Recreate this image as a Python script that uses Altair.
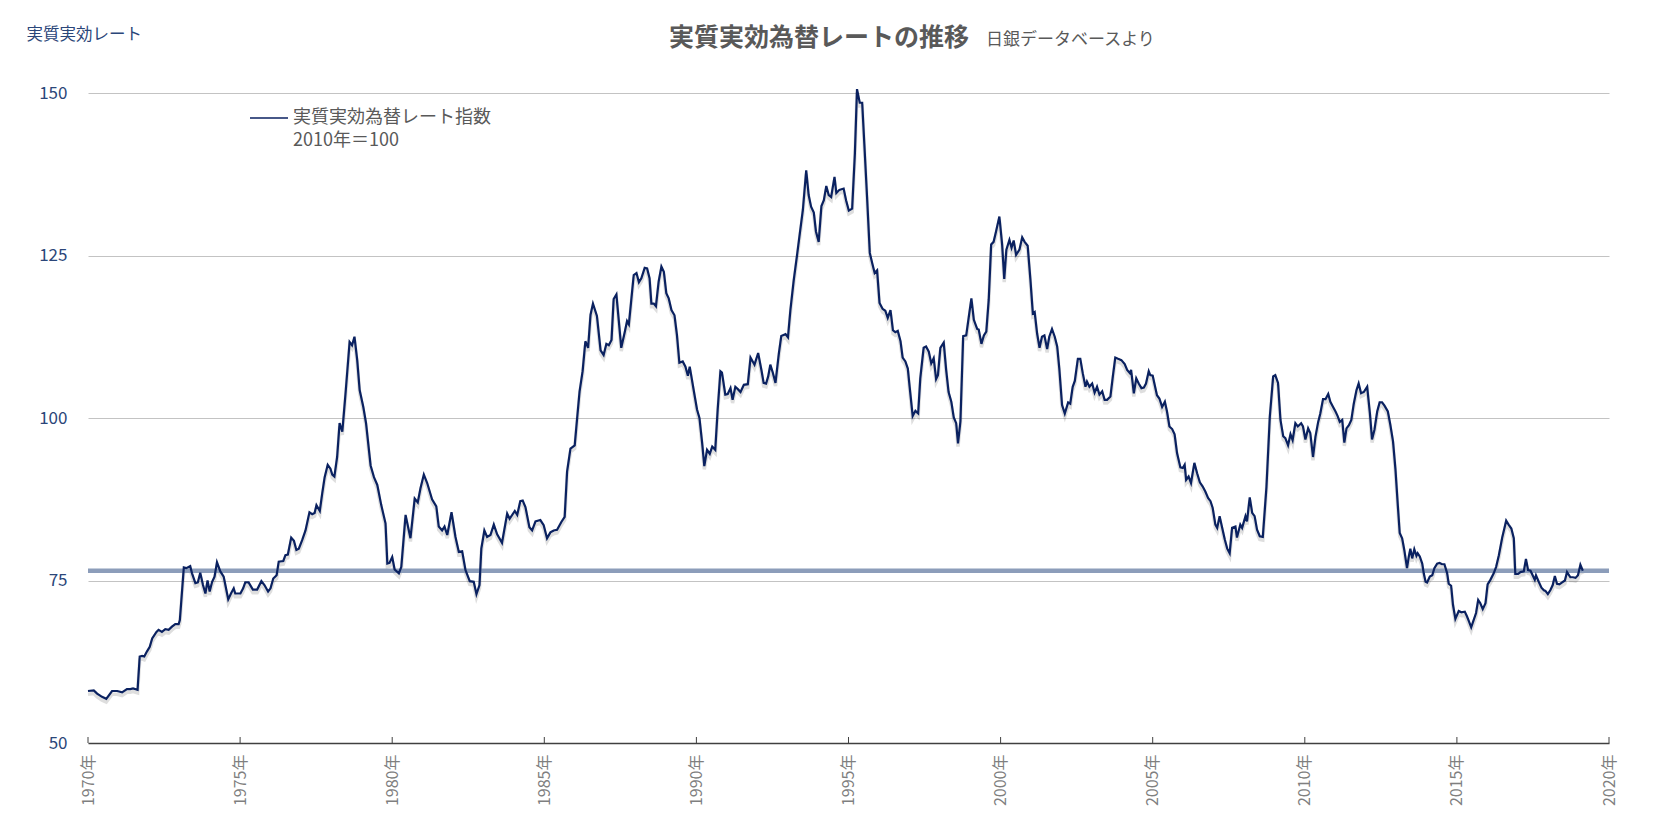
import altair as alt
import pandas as pd

# ---- data (decimal year, index value) ----
RATE_1970S = [
    (1970.00, 58.0), (1970.19, 58.1), (1970.30, 57.6), (1970.46, 57.1), (1970.60, 56.8), (1970.79, 58.0), (1970.96, 58.0),
    (1971.12, 57.8), (1971.28, 58.3), (1971.39, 58.3), (1971.48, 58.4), (1971.63, 58.2), (1971.70, 63.3), (1971.78, 63.4), (1971.85, 63.3), (1971.94, 64.1),
    (1972.03, 64.8), (1972.11, 66.1), (1972.25, 67.1), (1972.32, 67.4), (1972.43, 67.1), (1972.54, 67.5), (1972.65, 67.4), (1972.76, 67.9), (1972.87, 68.3), (1972.98, 68.3),
    (1973.02, 68.9), (1973.15, 77.0), (1973.23, 76.9), (1973.36, 77.2), (1973.42, 76.1), (1973.53, 74.6), (1973.61, 74.7), (1973.69, 76.2), (1973.78, 74.3), (1973.86, 73.0), (1973.93, 75.0),
    (1974.00, 73.3), (1974.08, 74.8), (1974.16, 75.6), (1974.24, 77.8), (1974.35, 76.4), (1974.46, 75.6), (1974.55, 73.5), (1974.61, 72.1), (1974.70, 73.0), (1974.79, 73.8), (1974.84, 73.0),
    (1975.01, 73.0), (1975.10, 73.8), (1975.17, 74.7), (1975.28, 74.7), (1975.42, 73.6), (1975.56, 73.6), (1975.70, 74.9), (1975.80, 74.3), (1975.92, 73.3),
    (1976.00, 73.8), (1976.09, 75.3), (1976.20, 75.8), (1976.27, 77.9), (1976.42, 78.0), (1976.49, 78.9), (1976.57, 79.0), (1976.68, 81.6), (1976.77, 81.1), (1976.85, 79.7), (1976.93, 79.9),
    (1977.04, 81.2), (1977.15, 82.7), (1977.28, 85.5), (1977.37, 85.2), (1977.45, 85.4), (1977.51, 86.6), (1977.62, 85.7), (1977.70, 88.4), (1977.78, 90.9), (1977.88, 92.8), (1977.97, 92.2),
    (1978.03, 91.3), (1978.10, 91.0), (1978.19, 94.0), (1978.27, 99.2), (1978.36, 97.9), (1978.47, 104.0), (1978.60, 111.7), (1978.68, 111.2), (1978.76, 112.5), (1978.85, 108.9), (1978.93, 104.3),
    (1979.05, 101.7), (1979.14, 99.2), (1979.29, 92.7), (1979.40, 90.9), (1979.51, 89.7), (1979.64, 86.6), (1979.78, 83.8), (1979.84, 77.6), (1979.91, 77.7),
]
RATE_1980S = [
    (1980.00, 78.6), (1980.08, 76.7), (1980.22, 76.1), (1980.30, 77.1), (1980.44, 85.1), (1980.51, 83.5), (1980.60, 81.5), (1980.74, 87.6), (1980.84, 87.0), (1980.93, 89.2),
    (1981.04, 91.3), (1981.15, 90.0), (1981.31, 87.5), (1981.45, 86.4), (1981.53, 83.3), (1981.64, 82.7), (1981.72, 83.3), (1981.81, 82.0), (1981.95, 85.5),
    (1982.08, 81.7), (1982.19, 79.4), (1982.30, 79.5), (1982.41, 76.6), (1982.55, 74.9), (1982.68, 74.8), (1982.77, 72.9), (1982.87, 74.3), (1982.93, 79.9),
    (1983.03, 82.7), (1983.12, 81.7), (1983.23, 82.0), (1983.34, 83.6), (1983.45, 82.1), (1983.61, 80.8), (1983.78, 85.3), (1983.86, 84.5),
    (1984.03, 85.7), (1984.11, 85.1), (1984.21, 87.2), (1984.29, 87.3), (1984.38, 86.3), (1984.51, 83.2), (1984.60, 82.7), (1984.71, 84.1), (1984.87, 84.3), (1984.98, 83.5),
    (1985.09, 81.5), (1985.20, 82.4), (1985.31, 82.7), (1985.42, 82.8), (1985.56, 84.0), (1985.67, 84.8), (1985.75, 91.8), (1985.86, 95.3),
    (1986.00, 95.8), (1986.08, 100.0), (1986.16, 104.1), (1986.26, 107.2), (1986.35, 111.8), (1986.44, 110.8), (1986.52, 115.9), (1986.60, 117.6), (1986.73, 115.7), (1986.85, 110.4), (1986.95, 109.7),
    (1987.04, 111.4), (1987.12, 111.2), (1987.21, 112.0), (1987.28, 118.3), (1987.37, 119.0), (1987.45, 114.9), (1987.53, 110.8), (1987.64, 113.1), (1987.72, 114.9), (1987.78, 114.4), (1987.85, 117.7), (1987.94, 122.0),
    (1988.03, 122.3), (1988.11, 120.9), (1988.19, 121.5), (1988.30, 123.1), (1988.38, 123.0), (1988.46, 121.5), (1988.52, 117.6), (1988.60, 117.6), (1988.67, 117.2), (1988.76, 121.0), (1988.85, 123.3), (1988.93, 122.5),
    (1989.01, 119.2), (1989.09, 118.4), (1989.18, 116.6), (1989.28, 115.8), (1989.36, 112.8), (1989.44, 108.5), (1989.55, 108.7), (1989.64, 107.9), (1989.72, 106.5), (1989.78, 107.9), (1989.91, 104.3),
]
RATE_1990S = [
    (1990.02, 101.3), (1990.10, 100.0), (1990.19, 96.1), (1990.26, 92.6), (1990.35, 95.1), (1990.44, 94.5), (1990.52, 95.6), (1990.62, 95.1), (1990.70, 101.3), (1990.79, 107.2), (1990.84, 107.0), (1990.95, 103.6),
    (1991.03, 103.7), (1991.12, 104.6), (1991.19, 102.8), (1991.28, 104.8), (1991.37, 104.4), (1991.45, 104.0), (1991.56, 105.1), (1991.69, 105.2), (1991.78, 109.3), (1991.91, 108.2),
    (1992.03, 110.0), (1992.14, 107.3), (1992.21, 105.4), (1992.29, 105.3), (1992.36, 106.4), (1992.43, 108.2), (1992.51, 107.0), (1992.60, 105.4), (1992.71, 109.9), (1992.79, 112.6), (1992.93, 112.9),
    (1993.01, 112.4), (1993.09, 116.6), (1993.20, 121.2), (1993.31, 125.1), (1993.40, 128.4), (1993.50, 132.0), (1993.61, 138.1), (1993.69, 134.3), (1993.77, 132.5), (1993.86, 131.6), (1993.93, 128.7),
    (1994.02, 127.1), (1994.11, 132.6), (1994.19, 133.5), (1994.27, 135.7), (1994.35, 134.3), (1994.43, 134.0), (1994.54, 137.1), (1994.60, 134.6), (1994.70, 135.1), (1994.84, 135.3), (1994.92, 133.5),
    (1995.01, 131.9), (1995.12, 132.2), (1995.21, 140.7), (1995.28, 150.6), (1995.37, 148.5), (1995.45, 148.5), (1995.52, 142.2), (1995.61, 134.0), (1995.70, 125.4), (1995.78, 123.8), (1995.86, 122.3), (1995.94, 122.7),
    (1996.02, 117.7), (1996.12, 116.8), (1996.21, 116.5), (1996.29, 115.4), (1996.38, 116.6), (1996.46, 113.5), (1996.54, 113.2), (1996.62, 113.4), (1996.71, 111.8), (1996.78, 109.3), (1996.87, 108.7), (1996.95, 107.6),
    (1997.01, 104.8), (1997.11, 100.3), (1997.20, 101.1), (1997.29, 100.7), (1997.36, 106.1), (1997.47, 110.8), (1997.55, 111.0), (1997.64, 110.2), (1997.72, 108.4), (1997.80, 109.2), (1997.88, 106.0), (1997.94, 106.6),
    (1998.02, 110.8), (1998.13, 111.6), (1998.21, 107.4), (1998.29, 104.0), (1998.38, 102.5), (1998.46, 100.1), (1998.54, 99.2), (1998.60, 96.1), (1998.68, 99.5), (1998.77, 112.6), (1998.87, 112.7), (1998.95, 115.4),
    (1999.04, 118.4), (1999.12, 115.1), (1999.23, 113.7), (1999.28, 113.6), (1999.37, 111.4), (1999.45, 112.7), (1999.53, 113.3), (1999.61, 118.2), (1999.69, 126.7), (1999.77, 127.1), (1999.85, 128.7), (1999.96, 131.0),
]
RATE_2000S = [
    (2000.05, 126.7), (2000.12, 121.4), (2000.19, 125.9), (2000.29, 127.4), (2000.36, 126.2), (2000.43, 127.3), (2000.51, 125.1), (2000.62, 125.9), (2000.71, 127.8), (2000.79, 127.1), (2000.89, 126.5), (2000.98, 121.3),
    (2001.06, 116.1), (2001.12, 116.3), (2001.20, 113.0), (2001.28, 110.8), (2001.36, 112.5), (2001.44, 112.7), (2001.53, 110.6), (2001.60, 112.5), (2001.69, 113.7), (2001.78, 112.5), (2001.86, 111.0), (2001.93, 107.6),
    (2002.02, 102.0), (2002.11, 100.7), (2002.22, 102.4), (2002.29, 102.2), (2002.37, 104.8), (2002.44, 105.7), (2002.54, 109.1), (2002.62, 109.1), (2002.70, 106.9), (2002.79, 104.8), (2002.84, 105.6), (2002.92, 104.8),
    (2003.01, 105.3), (2003.09, 103.9), (2003.17, 104.8), (2003.25, 103.6), (2003.34, 104.1), (2003.42, 102.8), (2003.50, 102.8), (2003.61, 103.3), (2003.69, 106.4), (2003.77, 109.3), (2003.86, 109.1), (2003.97, 108.9),
    (2004.08, 108.3), (2004.16, 107.4), (2004.25, 106.9), (2004.29, 107.4), (2004.38, 103.8), (2004.46, 106.1), (2004.54, 105.3), (2004.63, 104.6), (2004.71, 104.7), (2004.78, 105.3), (2004.87, 107.2), (2004.92, 106.6),
    (2005.00, 106.5), (2005.07, 105.0), (2005.14, 103.5), (2005.22, 103.0), (2005.31, 101.7), (2005.40, 102.5), (2005.47, 101.0), (2005.55, 98.7), (2005.64, 98.3), (2005.72, 97.5), (2005.80, 94.6), (2005.91, 92.4), (2005.99, 92.3),
    (2006.05, 92.8), (2006.10, 90.5), (2006.18, 91.0), (2006.26, 90.0), (2006.37, 93.1), (2006.46, 91.5), (2006.55, 90.1), (2006.64, 89.5), (2006.73, 88.7), (2006.82, 87.7), (2006.90, 87.2), (2006.97, 86.2),
    (2007.06, 83.6), (2007.12, 83.1), (2007.20, 84.9), (2007.28, 83.2), (2007.37, 81.3), (2007.45, 79.9), (2007.53, 79.2), (2007.61, 83.1), (2007.72, 83.3), (2007.77, 81.6), (2007.88, 83.6), (2007.94, 83.1),
    (2008.05, 84.9), (2008.10, 84.1), (2008.19, 87.8), (2008.27, 85.4), (2008.35, 84.9), (2008.43, 82.8), (2008.52, 81.8), (2008.62, 81.7), (2008.74, 89.4), (2008.85, 100.2), (2008.96, 106.4),
    (2009.03, 106.6), (2009.12, 105.4), (2009.20, 99.7), (2009.29, 97.2), (2009.36, 96.9), (2009.45, 95.8), (2009.53, 97.5), (2009.60, 96.6), (2009.69, 99.2), (2009.77, 98.7), (2009.88, 99.2), (2009.94, 98.7),
]
RATE_2010S = [
    (2010.02, 96.7), (2010.11, 98.4), (2010.18, 97.7), (2010.27, 94.0), (2010.35, 97.1), (2010.44, 99.4), (2010.51, 100.7), (2010.60, 102.9), (2010.68, 102.9), (2010.77, 103.7), (2010.84, 102.5), (2010.93, 101.7),
    (2011.01, 101.0), (2011.08, 100.3), (2011.15, 99.4), (2011.23, 99.7), (2011.30, 96.2), (2011.37, 98.4), (2011.45, 98.9), (2011.53, 99.7), (2011.61, 102.2), (2011.70, 104.3), (2011.77, 105.3), (2011.85, 103.8), (2011.94, 104.0),
    (2012.05, 104.8), (2012.14, 100.7), (2012.21, 96.7), (2012.29, 98.2), (2012.38, 101.0), (2012.46, 102.4), (2012.54, 102.4), (2012.62, 101.9), (2012.73, 101.0), (2012.81, 99.0), (2012.90, 96.4), (2012.98, 92.1),
    (2013.06, 86.4), (2013.12, 82.3), (2013.20, 81.5), (2013.27, 79.7), (2013.36, 76.9), (2013.42, 78.7), (2013.47, 79.9), (2013.53, 78.4), (2013.60, 79.8), (2013.67, 78.8), (2013.71, 79.2), (2013.78, 78.7), (2013.86, 77.6), (2013.91, 76.1), (2013.97, 74.8),
    (2014.02, 74.7), (2014.11, 75.6), (2014.19, 75.8), (2014.26, 76.9), (2014.35, 77.6), (2014.43, 77.7), (2014.51, 77.5), (2014.59, 77.5), (2014.68, 76.1), (2014.73, 74.5), (2014.81, 74.2), (2014.87, 71.3), (2014.95, 69.1),
    (2015.06, 70.3), (2015.15, 70.1), (2015.26, 70.2), (2015.33, 69.5), (2015.39, 68.8), (2015.47, 67.8), (2015.55, 68.9), (2015.63, 70.0), (2015.70, 72.0), (2015.77, 71.5), (2015.85, 70.6), (2015.94, 71.5),
    (2016.01, 74.4), (2016.10, 75.1), (2016.21, 76.1), (2016.29, 77.1), (2016.38, 78.9), (2016.49, 81.6), (2016.56, 83.0), (2016.62, 84.2), (2016.70, 83.6), (2016.79, 83.0), (2016.87, 81.5), (2016.92, 76.0),
    (2017.01, 76.0), (2017.09, 76.3), (2017.20, 76.4), (2017.27, 78.3), (2017.34, 76.6), (2017.42, 76.5), (2017.49, 75.8), (2017.56, 75.1), (2017.60, 75.8), (2017.69, 74.8), (2017.78, 73.9), (2017.86, 73.5), (2017.91, 73.4), (2017.99, 72.9),
    (2018.07, 73.5), (2018.15, 74.3), (2018.22, 75.7), (2018.29, 74.5), (2018.37, 74.4), (2018.46, 74.7), (2018.55, 75.0), (2018.62, 76.3), (2018.73, 75.5), (2018.81, 75.5), (2018.90, 75.4), (2018.98, 75.8),
    (2019.06, 77.4), (2019.14, 76.5),
]
REFERENCE_LEVEL = 76.5          # horizontal band (latest level)
TICK_YEARS = [1970, 1975, 1980, 1985, 1990, 1995, 2000, 2005, 2010, 2015, 2020]
Y_TICKS = [50, 75, 100, 125, 150]

TITLE = "実質実効為替レートの推移"
SUBTITLE = "日銀データベースより"
Y_TITLE = "実質実効レート"
LEGEND_LINES = ["実質実効為替レート指数", "2010年＝100"]

# ---- styling ----
FONT = "Noto Sans CJK JP"
NAVY = "#0A2160"
AXIS_NAVY = "#2B4679"
GRAY_TEXT = "#595959"
W, H = 1521, 650

rows = RATE_1970S + RATE_1980S + RATE_1990S + RATE_2000S + RATE_2010S
df = pd.DataFrame(rows, columns=["year", "rate"])
ticks_df = pd.DataFrame({"year": TICK_YEARS})

x_scale = alt.Scale(domain=[1970, 2020], nice=False, zero=False)
y_scale = alt.Scale(domain=[50, 150], nice=False, zero=False)

x_axis = alt.Axis(
    values=TICK_YEARS, labelExpr="datum.value + '年'", labelAngle=270,
    labelFont=FONT, labelFontSize=16, labelColor="#7F7F7F", labelPadding=11,
    ticks=False, grid=False, domain=True, domainColor="#404040", domainWidth=1.5,
    title=None,
)
y_axis = alt.Axis(
    values=Y_TICKS, grid=True, gridColor="#C3C3C3", gridWidth=1,
    domain=False, ticks=False, labelFont=FONT, labelFontSize=17,
    labelColor=AXIS_NAVY, labelPadding=21,
    title=Y_TITLE, titleAngle=0, titleX=-62, titleY=-59, titleAlign="left",
    titleBaseline="middle", titleFont=FONT, titleFontSize=16.5,
    titleFontWeight="normal", titleColor=AXIS_NAVY,
)

base = alt.Chart(df)

shadow = base.transform_calculate(shade="datum.rate - 0.5").mark_line(
    color="#000000", opacity=0.13, strokeWidth=3.5
).encode(
    x=alt.X("year:Q", scale=x_scale, axis=x_axis),
    y=alt.Y("shade:Q", scale=y_scale, axis=y_axis),
)

band = alt.Chart(pd.DataFrame({"level": [REFERENCE_LEVEL]})).mark_rule(
    color="#8C9DBA", strokeWidth=4.5
).encode(y=alt.Y("level:Q", scale=y_scale))

line = base.mark_line(color=NAVY, strokeWidth=2.2).encode(
    x=alt.X("year:Q", scale=x_scale),
    y=alt.Y("rate:Q", scale=y_scale),
)

inner_ticks = alt.Chart(ticks_df).mark_rule(color="#404040", strokeWidth=1).encode(
    x=alt.X("year:Q", scale=x_scale), y=alt.value(H), y2=alt.value(H - 6)
)

legend_line = alt.Chart(pd.DataFrame({"k": [0]})).mark_rule(
    color=NAVY, strokeWidth=1.5
).encode(x=alt.value(162), x2=alt.value(200), y=alt.value(25))

legend_t1 = alt.Chart(pd.DataFrame({"t": [LEGEND_LINES[0]]})).mark_text(
    align="left", baseline="middle", font=FONT, fontSize=18, color=GRAY_TEXT
).encode(x=alt.value(205), y=alt.value(25), text="t:N")

legend_t2 = alt.Chart(pd.DataFrame({"t": [LEGEND_LINES[1]]})).mark_text(
    align="left", baseline="middle", font=FONT, fontSize=18, color=GRAY_TEXT
).encode(x=alt.value(205), y=alt.value(48), text="t:N")

title_t = alt.Chart(pd.DataFrame({"t": [TITLE]})).mark_text(
    align="left", baseline="middle", font=FONT, fontSize=25, fontWeight="bold",
    color=GRAY_TEXT
).encode(x=alt.value(581), y=alt.value(-55), text="t:N")

subtitle_t = alt.Chart(pd.DataFrame({"t": [SUBTITLE]})).mark_text(
    align="left", baseline="middle", font=FONT, fontSize=17, color=GRAY_TEXT
).encode(x=alt.value(898), y=alt.value(-53), text="t:N")

chart = alt.layer(
    shadow, band, line, inner_ticks, legend_line, legend_t1, legend_t2,
    title_t, subtitle_t,
).properties(
    width=W, height=H,
    autosize=alt.AutoSizeParams(type="none"),
    padding={"left": 80, "top": 85, "right": 35, "bottom": 70},
    background="white",
).configure_view(stroke="transparent")

chart.save("out.html", embed_options={"renderer": "svg", "actions": False})
